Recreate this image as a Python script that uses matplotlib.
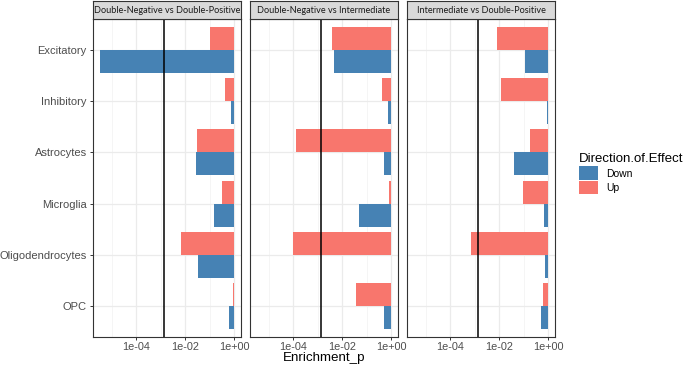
import numpy as np
import matplotlib
matplotlib.use('Agg')
import matplotlib.pyplot as plt
from matplotlib.patches import Patch

# data
cell_types = ['Excitatory', 'Inhibitory', 'Astrocytes', 'Microglia', 'Oligodendrocytes', 'OPC']
comparisons = ['Double-Negative vs Double-Positive',
               'Double-Negative vs Intermediate',
               'Intermediate vs Double-Positive']
# enrichment p-values, one list per comparison, in cell_types order
p_up = [
    [0.10, 0.42, 0.029, 0.33, 0.0068, 0.91],
    [0.0037, 0.43, 1.3e-4, 0.78, 9.7e-5, 0.035],
    [0.0083, 0.0113, 0.178, 0.093, 7.2e-4, 0.63],
]
p_down = [
    [3.2e-6, 0.71, 0.027, 0.155, 0.033, 0.59],
    [0.0046, 0.71, 0.52, 0.048, 0.94, 0.50],
    [0.115, 0.86, 0.040, 0.67, 0.76, 0.49],
]
threshold = 0.05 / 36
x_ticks = [1e-4, 1e-2, 1e0]
x_ticklabels = ['1e-04', '1e-02', '1e+00']
x_minor = [1e-5, 1e-3, 1e-1]

col_down = '#4682B4'
col_up = '#F8766D'
txt_col = '#4D4D4D'

plt.rcParams['font.family'] = ['Liberation Sans', 'DejaVu Sans']

fig = plt.figure(figsize=(6.85, 3.66), dpi=100)
W, H = 685.0, 366.0

# shared log x range, ggplot style 5% expansion
all_p = np.concatenate([np.ravel(p_up), np.ravel(p_down), [1.0]])
lo, hi = np.log10(all_p.min()), np.log10(all_p.max())
pad = (hi - lo) * 0.05
xlim = (10 ** (lo - pad), 10 ** (hi + pad))

panel_left = [93, 250, 407]
panel_w = 148
panel_top, panel_bot = 19, 337
strip_h = 18

y = np.arange(len(cell_types))
bh = 0.45

for k, comp in enumerate(comparisons):
    x0 = panel_left[k]
    ax = fig.add_axes([x0 / W, (H - panel_bot) / H, panel_w / W, (panel_bot - panel_top) / H])
    pu = np.array(p_up[k])
    pdn = np.array(p_down[k])
    ax.barh(y - bh / 2, 1 - pu, left=pu, height=bh, color=col_up, zorder=2)
    ax.barh(y + bh / 2, 1 - pdn, left=pdn, height=bh, color=col_down, zorder=2)
    ax.axvline(threshold, color='black', lw=1.1, zorder=3)
    ax.set_xscale('log')
    ax.set_xlim(xlim)
    ax.set_ylim(len(cell_types) - 0.4, -0.6)
    ax.set_xticks(x_ticks)
    ax.set_xticklabels(x_ticklabels)
    ax.set_xticks(x_minor, minor=True)
    ax.xaxis.set_minor_formatter(plt.NullFormatter())
    ax.set_yticks(y)
    ax.grid(True, which='major', color='#EBEBEB', lw=0.9, zorder=0)
    ax.grid(True, which='minor', axis='x', color='#F2F2F2', lw=0.5, zorder=0)
    ax.set_axisbelow(True)
    ax.tick_params(which='major', length=2.5, width=0.7, color='#333333',
                   labelsize=8, labelcolor=txt_col, pad=2)
    ax.tick_params(axis='x', which='major', labelsize=7.8, pad=1.2)
    ax.tick_params(which='minor', length=0)
    if k == 0:
        ax.set_yticklabels(cell_types)
    else:
        ax.tick_params(axis='y', left=False, labelleft=False)
    for s in ax.spines.values():
        s.set_color('#333333')
        s.set_linewidth(0.8)

    # facet strip
    sax = fig.add_axes([x0 / W, (H - panel_top) / H, panel_w / W, strip_h / H])
    sax.set_facecolor('#D9D9D9')
    sax.set_xticks([])
    sax.set_yticks([])
    for s in sax.spines.values():
        s.set_color('#333333')
        s.set_linewidth(0.8)
    sax.text(0.5, 0.48, comp, ha='center', va='center', fontsize=6.6,
             family=['Lato', 'DejaVu Sans'], color='#1A1A1A', transform=sax.transAxes)

fig.text((93 + 555) / 2 / W, 1 - 361.5 / H, 'Enrichment_p', ha='center', va='baseline',
         fontsize=9.6, color='black')

handles = [Patch(facecolor=col_down, label='Down'), Patch(facecolor=col_up, label='Up')]
leg = fig.legend(handles=handles, title='Direction.of.Effect', loc='upper left',
                 bbox_to_anchor=(574 / W, 1 - 148 / H), frameon=False,
                 fontsize=7.5, title_fontsize=9.5, handlelength=1.8, handleheight=1.6,
                 handletextpad=0.8, labelspacing=0.12, borderpad=0)
leg._legend_box.align = 'left'

fig.savefig('out.png', dpi=100)
